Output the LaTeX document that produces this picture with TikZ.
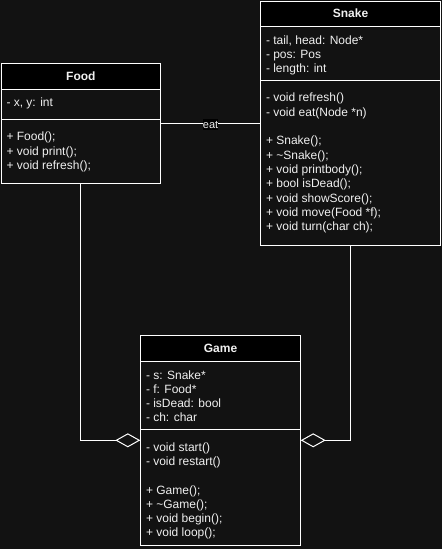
\documentclass[tikz,border=0pt]{standalone}
\usepackage{fontspec}
\setmainfont{Liberation Sans}
\usetikzlibrary{arrows.meta,positioning}
\definecolor{bg}{HTML}{121212}
\definecolor{ink}{HTML}{F0F0F0}
\tikzset{
  classbox/.style={draw=white, line width=1pt, inner sep=0pt, outer sep=0pt},
  classhead/.style={draw=white, fill=black, line width=1pt, text=ink, inner sep=0pt, outer sep=0pt,
    font=\fontsize{12}{14}\selectfont\bfseries, text height=8.6pt, text depth=0pt},
  member/.style={text=ink, inner sep=0pt, outer sep=0pt, font=\fontsize{12}{14}\selectfont},
  link/.style={draw=white, line width=1pt},
  agg/.style={link, -{Diamond[length=25pt, width=14pt, fill=bg]}},
  eatlabel/.style={fill=black, text=ink, inner sep=0pt, font=\fontsize{11}{13}\selectfont,
    text height=8.9pt, text depth=1.8pt, yshift=-1.45pt}
}
\def\members[#1](#2,#3)#4{\foreach \m [count=\k from 0] in {#4} {\node[member, anchor=base west] (#1-\k) at (#2,{#3+\k*14.33}) {\m};}}

\begin{document}
\begin{tikzpicture}[x=1pt, y=-1pt]
  %%%%% START %%%%%
  \fill[bg] (0,0) rectangle (442,549);

  % Snake
  \node[classbox, minimum width=180pt, minimum height=244.6pt] (snake) at (350.5,123.3) {};
  \node[classhead, minimum width=180pt, minimum height=25pt, below=0pt of snake.north] (snakehead) {Snake};
  \draw[link] (snake.west |- 0,80.3) -- (snake.east |- 0,80.3);
  \members[snakeattr](266,44){{- tail, head: Node*},{- pos: Pos},{- length: int}}
  \members[snakepriv](266,101.7){{- void refresh()},{- void eat(Node *n)}}
  \members[snakepub](266,144.7){{+ Snake();},{+ \textasciitilde Snake();},{+ void printbody();},{+ bool isDead();},{+ void showScore();},{+ void move(Food *f);},{+ void turn(char ch);}}

  % Food
  \node[classbox, minimum width=159.7pt, minimum height=120pt] (food) at (80.85,123.3) {};
  \node[classhead, minimum width=159.7pt, minimum height=26pt, below=0pt of food.north] (foodhead) {Food};
  \draw[link] (food.west |- 0,119) -- (food.east |- 0,119);
  \members[foodattr](6.5,106.7){{- x, y: int}}
  \members[foodpub](6.5,140.7){{+ Food();},{+ void print();},{+ void refresh();}}

  % Game
  \node[classbox, minimum width=160.4pt, minimum height=210pt] (game) at (220.5,440.3) {};
  \node[classhead, minimum width=160.4pt, minimum height=26pt, below=0pt of game.north] (gamehead) {Game};
  \draw[link] (game.west |- 0,429.3) -- (game.east |- 0,429.3);
  \members[gameattr](146,379){{- s: Snake*},{- f: Food*},{- isDead: bool},{- ch: char}}
  \members[gamepriv](146,451){{- void start()},{- void restart()}}
  \members[gamepub](146,494){{+ Game();},{+ \textasciitilde Game();},{+ void begin();},{+ void loop();}}

  % links
  \draw[link] (food.east) -- node[eatlabel] (eat) {eat} (snake.west);
  \draw[agg] (food.south) |- (game.west);
  \draw[agg] (snake.south) |- (game.east);
  %%%%% END %%%%%
\end{tikzpicture}
\end{document}
